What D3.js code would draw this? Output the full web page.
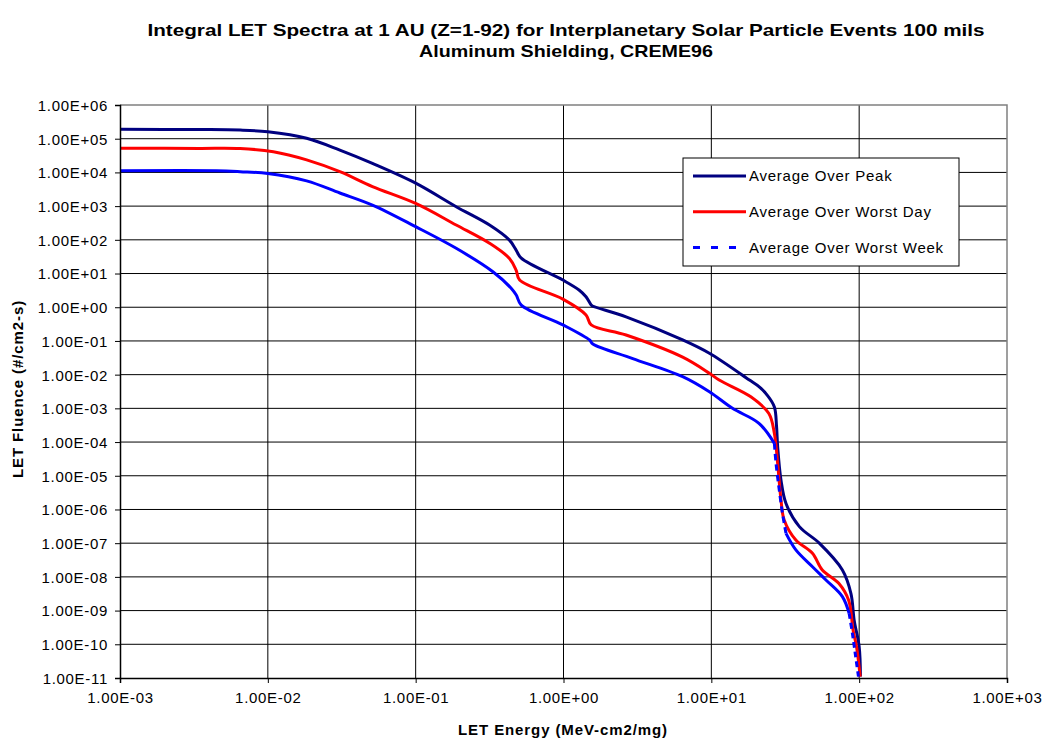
<!DOCTYPE html>
<html>
<head>
<meta charset="utf-8">
<script src="https://cdn.jsdelivr.net/npm/d3@7"></script>
<style>
    body { margin: 0; background: #fff; }
    text { font-family: Arial, "Liberation Sans", sans-serif; fill: #000; }
</style>
</head>
<body>
<div id="chart"></div>
<script>
var titleLines = ["Integral LET Spectra at 1 AU (Z=1-92) for Interplanetary Solar Particle Events 100 mils",
    "Aluminum Shielding, CREME96"];
var xTitle = "LET Energy (MeV-cm2/mg)";
var yTitle = "LET Fluence (#/cm2-s)";
var seriesNames = ["Average Over Peak", "Average Over Worst Day", "Average Over Worst Week"];
var xTickValues = [1e-3, 1e-2, 1e-1, 1e0, 1e1, 1e2, 1e3];
var yTickValues = [1e6, 1e5, 1e4, 1e3, 1e2, 1e1, 1e0, 1e-1, 1e-2, 1e-3, 1e-4, 1e-5, 1e-6, 1e-7, 1e-8, 1e-9, 1e-10, 1e-11];

// values
var peakLet = [1e-3, 3.47e-3, 6.5e-3, 1e-2, 1.83e-2, 3.07e-2, 5.1e-2, 0.1, 0.188, 0.316, 0.431, 0.474, 0.518, 0.99, 1.28, 1.42, 1.54, 1.57, 2.65, 6.4, 9.7, 18.1, 21, 24, 26.7, 27.6, 28.1, 29.6, 32, 39.4, 53.7, 77, 88, 92.5, 100, 102];
var peakFlux = [1.9e5, 1.87e5, 1.8e5, 1.6e5, 1.03e5, 4.6e4, 1.85e4, 4.8e3, 960, 275, 98, 53, 28.5, 6.4, 3.2, 2.04, 1.16, 1.09, 0.52, 0.107, 0.043, 6.9e-3, 4.4e-3, 2.4e-3, 1.1e-3, 3e-4, 7.2e-5, 7.4e-6, 1.5e-6, 3.1e-7, 1e-7, 1.6e-8, 3.2e-9, 5.2e-10, 8.5e-11, 1.1e-11];

var dayLet = [1e-3, 3.47e-3, 6.5e-3, 1.09e-2, 1.83e-2, 3.07e-2, 5.1e-2, 0.1, 0.188, 0.316, 0.431, 0.478, 0.505, 0.99, 1.42, 1.54, 2.65, 6.4, 9.7, 11.3, 18.5, 24.5, 26.7, 28.1, 29.6, 31.1, 37.3, 48.3, 56.3, 73, 85, 91, 96, 101.6];
var dayFlux = [5.2e4, 5.15e4, 5.1e4, 4.1e4, 2.35e4, 1.05e4, 3.8e3, 1.2e3, 275, 79, 28, 12.6, 6.4, 1.74, 0.59, 0.30, 0.15, 0.033, 0.011, 6.9e-3, 2.2e-3, 7e-4, 1.8e-4, 2.3e-5, 1.9e-6, 4.9e-7, 1.24e-7, 5e-8, 1.6e-8, 6.4e-9, 2e-9, 2.6e-10, 8.5e-11, 1.1e-11];

var weekLet = [1e-3, 4.5e-3, 6.5e-3, 1e-2, 1.83e-2, 3.07e-2, 5.1e-2, 0.1, 0.188, 0.333, 0.444, 0.479, 0.518, 0.99, 1.5, 1.58, 2.94, 6.4, 9.7, 13.9, 21, 26.7, 27.4, 28.8, 30.3, 32, 37.3, 48.3, 59.6, 77, 85.5, 90, 94, 98.9];
var weekFlux = [1.12e4, 1.12e4, 1.05e4, 9.3e3, 5.6e3, 2.45e3, 1.07e3, 245, 56, 11.3, 3.6, 2.3, 1.16, 0.30, 0.107, 0.081, 0.030, 8.7e-3, 3.1e-3, 1.0e-3, 3.6e-4, 9.1e-5, 2.3e-5, 3.8e-6, 7.6e-7, 1.95e-7, 6.3e-8, 2e-8, 8.1e-9, 2.6e-9, 8.3e-10, 2.1e-10, 5.4e-11, 1.1e-11];

function LetChart(params) {
    this.width = params.width ? params.width : 1045;
    this.height = params.height ? params.height : 742;
    this.wrapper = params.id ? params.id : 'body';
    this.colors = ['#000080', '#ff0000', '#0000ff'];
    this.plot = { left: 120, right: 1007, top: 105, bottom: 678 };
}

LetChart.prototype = {
    init: function() {
        this.createSvg();
        this.createScales();
        this.drawGrid();
        this.drawSeries();
        this.drawAxes();
        this.drawLegend();
        this.drawTitles();
    },
    createSvg: function() {
        this.svg = d3.select(this.wrapper).append('svg')
            .attr('width', this.width)
            .attr('height', this.height)
            .style('display', 'block');
    },
    createScales: function() {
        this.x = d3.scaleLog().domain([1e-3, 1e3]).range([this.plot.left, this.plot.right]);
        this.y = d3.scaleLog().domain([1e-11, 1e6]).range([this.plot.bottom, this.plot.top]);
    },
    drawGrid: function() {
        var _this = this;
        var g = this.svg.append('g').attr('class', 'grid');
        g.selectAll('line.h')
            .data(yTickValues.slice(1, -1))
            .enter().append('line')
            .attr('class', 'h')
            .attr('x1', this.plot.left).attr('x2', this.plot.right)
            .attr('y1', function(d) { return _this.y(d); })
            .attr('y2', function(d) { return _this.y(d); })
            .style('stroke', '#000').style('stroke-width', 1);
        g.selectAll('line.v')
            .data(xTickValues.slice(1, -1))
            .enter().append('line')
            .attr('class', 'v')
            .attr('y1', this.plot.top).attr('y2', this.plot.bottom)
            .attr('x1', function(d) { return _this.x(d); })
            .attr('x2', function(d) { return _this.x(d); })
            .style('stroke', '#000').style('stroke-width', 1);
        // plot area border (top / right)
        g.append('path')
            .attr('d', 'M' + this.plot.left + ',' + this.plot.top + 'H' + this.plot.right + 'V' + this.plot.bottom)
            .style('fill', 'none').style('stroke', '#808080').style('stroke-width', 1.5);
    },
    drawSeries: function() {
        var _this = this;
        var all = [[peakLet, peakFlux], [dayLet, dayFlux], [weekLet, weekFlux]];
        var line = d3.line()
            .x(function(d) { return _this.x(d[0]); })
            .y(function(d) { return _this.y(d[1]); })
            .curve(d3.curveCatmullRom.alpha(0.5));
        var g = this.svg.append('g').attr('class', 'series');
        all.forEach(function(s, i) {
            var pts = s[0].map(function(v, k) { return [v, s[1][k]]; });
            if (i < 2) {
                g.append('path')
                    .attr('d', line(pts))
                    .style('fill', 'none')
                    .style('stroke', _this.colors[i])
                    .style('stroke-width', 3)
                    .style('stroke-linejoin', 'round');
                return;
            }
            // dashed series: only the long steep pieces show their dashes
            var runs = [];
            for (var k = 0; k < pts.length - 1; k++) {
                var dx = Math.abs(_this.x(pts[k + 1][0]) - _this.x(pts[k][0]));
                var dy = Math.abs(_this.y(pts[k + 1][1]) - _this.y(pts[k][1]));
                var steep = dy > 3 * dx;
                var last = runs[runs.length - 1];
                if (last && last.steep === steep) {
                    last.pts.push(pts[k + 1]);
                } else {
                    runs.push({ steep: steep, pts: [pts[k], pts[k + 1]] });
                }
            }
            runs.forEach(function(r) {
                var p = g.append('path')
                    .attr('d', line(r.pts))
                    .style('fill', 'none')
                    .style('stroke', _this.colors[i])
                    .style('stroke-width', 3)
                    .style('stroke-linejoin', 'round');
                if (r.steep) {
                    // fit whole dashes so the run starts and ends on a dash
                    var len = p.node().getTotalLength();
                    var n = Math.max(1, Math.round((len + 4) / 10));
                    var unit = (len + 4) / n;
                    p.style('stroke-dasharray', (unit * 0.6) + ',' + (unit * 0.4));
                }
            });
        });
    },
    drawAxes: function() {
        var fmt = function(v) {
            var e = Math.round(Math.log10(v));
            return '1.00E' + (e < 0 ? '-' : '+') + String(Math.abs(e)).padStart(2, '0');
        };
        var xAxis = d3.axisBottom(this.x).tickValues(xTickValues).tickFormat(fmt).tickSize(5).tickPadding(9);
        var yAxis = d3.axisLeft(this.y).tickValues(yTickValues).tickFormat(fmt).tickSize(5).tickPadding(7);

        var gx = this.svg.append('g')
            .attr('transform', 'translate(0,' + this.plot.bottom + ')')
            .call(xAxis);
        var gy = this.svg.append('g')
            .attr('transform', 'translate(' + this.plot.left + ',0)')
            .call(yAxis);
        [gx, gy].forEach(function(g) {
            g.select('.domain').style('stroke', '#000').style('stroke-width', 1.5);
            g.selectAll('.tick line').style('stroke', '#000');
            g.selectAll('.tick text')
                .style('font-size', '15px')
                .style('letter-spacing', '0.7px')
                .style('font-family', 'Arial, "Liberation Sans", sans-serif')
                .style('fill', '#000');
        });
        gy.selectAll('.tick text').attr('dy', '0.36em');
    },
    drawLegend: function() {
        var _this = this;
        var lg = this.svg.append('g').attr('transform', 'translate(683,158)');
        lg.append('rect')
            .attr('width', 276).attr('height', 108)
            .style('fill', '#fff').style('stroke', '#000').style('stroke-width', 1);
        var item = lg.selectAll('g.item')
            .data(seriesNames)
            .enter().append('g')
            .attr('class', 'item')
            .attr('transform', function(d, i) { return 'translate(0,' + (18 + i * 35.7) + ')'; });
        item.append('line')
            .attr('x1', 10).attr('x2', 63)
            .style('stroke', function(d, i) { return _this.colors[i]; })
            .style('stroke-width', 3)
            .style('stroke-dasharray', function(d, i) { return i === 2 ? '7,11' : null; });
        item.append('text')
            .attr('x', 66).attr('dy', '0.36em')
            .style('font-size', '15px')
            .style('letter-spacing', '0.75px')
            .text(function(d) { return d; });
    },
    drawTitles: function() {
        var cx = 566;
        var widths = [837, 294];
        this.svg.selectAll('text.title')
            .data(titleLines)
            .enter().append('text')
            .attr('class', 'title')
            .attr('x', cx)
            .attr('y', function(d, i) { return 36 + i * 21; })
            .attr('text-anchor', 'middle')
            .attr('textLength', function(d, i) { return widths[i]; })
            .attr('lengthAdjust', 'spacingAndGlyphs')
            .style('font-size', '17px')
            .style('font-weight', 'bold')
            .text(function(d) { return d; });
        this.svg.append('text')
            .attr('x', 563).attr('y', 735)
            .attr('text-anchor', 'middle')
            .style('font-size', '15px').style('font-weight', 'bold')
            .style('letter-spacing', '0.9px')
            .text(xTitle);
        this.svg.append('text')
            .attr('transform', 'translate(23,389) rotate(-90)')
            .attr('text-anchor', 'middle')
            .style('font-size', '15px').style('font-weight', 'bold')
            .style('letter-spacing', '0.9px')
            .text(yTitle);
    }
};

var chart = new LetChart({ id: '#chart', width: 1045, height: 742 });
chart.init();
</script>
</body>
</html>
